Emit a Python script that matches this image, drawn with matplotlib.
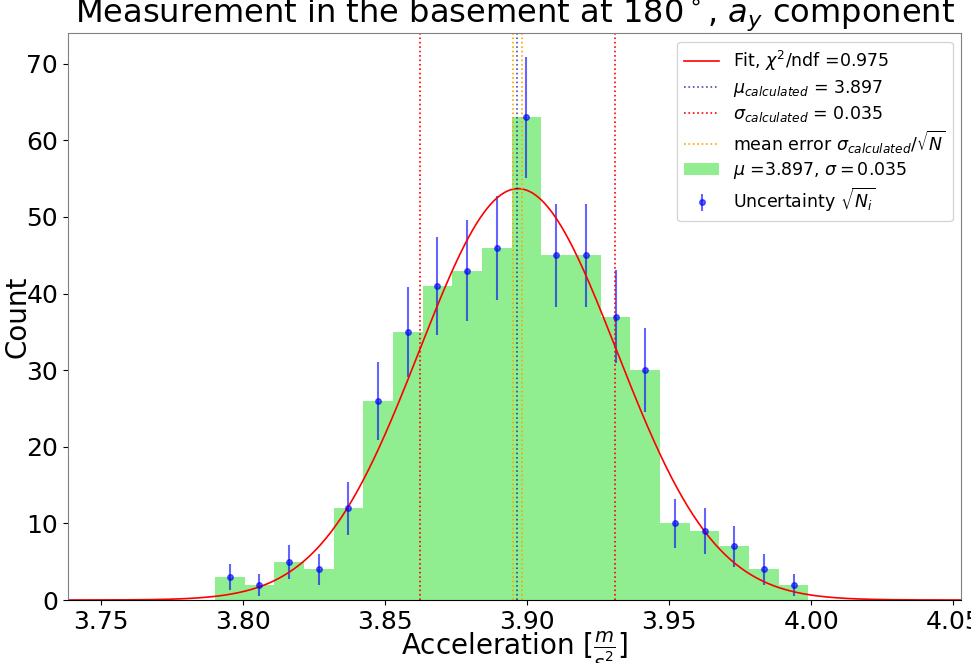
import numpy as np
import matplotlib
matplotlib.use("Agg")
import matplotlib.pyplot as plt

bin_lo = 3.7901
bin_hi = 3.9990
counts = [3, 2, 5, 4, 12, 26, 35, 41, 43, 46, 63, 45, 45, 37, 30, 10, 9, 7, 4, 2]

# calculated mean / sigma and gaussian fit parameters
mu_calc = 3.8965
sigma_calc = 0.0343
fit_amp = 53.7
fit_mu = 3.8968
fit_sigma = 0.0347
chi2_ndf = 0.975

edges = np.linspace(bin_lo, bin_hi, len(counts) + 1)
centers = 0.5 * (edges[:-1] + edges[1:])
counts = np.array(counts)
N = counts.sum()
mean_err = sigma_calc / np.sqrt(N)

fig, ax = plt.subplots(figsize=(9.71, 6.63), dpi=100)
fig.subplots_adjust(left=0.07, right=0.99, top=0.95, bottom=0.095)

ax.hist(centers, bins=edges, weights=counts, color='lightgreen',
        label=r'$\mu$ =3.897, $\sigma = 0.035$')

ax.errorbar(centers, counts, yerr=np.sqrt(counts), fmt='o', color='blue',
            alpha=0.6, markersize=4, elinewidth=1.5,
            label=r'Uncertainty $\sqrt{N_i}$')

x = np.linspace(3.7384, 4.0528, 500)
y = fit_amp * np.exp(-0.5 * ((x - fit_mu) / fit_sigma) ** 2)
ax.plot(x, y, color='red', lw=1.2, label=r'Fit, $\chi^2$/ndf =%.3f' % chi2_ndf)

ax.axvline(mu_calc, color='darkblue', ls=':', lw=1.2, alpha=0.7,
           label=r'$\mu_{calculated}$ = 3.897')
ax.axvline(mu_calc - sigma_calc, color='red', ls=':', lw=1.2,
           label=r'$\sigma_{calculated}$ = 0.035')
ax.axvline(mu_calc + sigma_calc, color='red', ls=':', lw=1.2)
ax.axvline(mu_calc - mean_err, color='orange', ls=':', lw=1.2,
           label=r'mean error $\sigma_{calculated}/\sqrt{N}$')
ax.axvline(mu_calc + mean_err, color='orange', ls=':', lw=1.2)

ax.set_xlim(3.7384, 4.0528)
ax.set_ylim(0, 74.0)
ax.set_xticks([3.75, 3.80, 3.85, 3.90, 3.95, 4.00, 4.05])
ax.set_title(r'Measurement in the basement at 180$^\circ$, $a_y$ component',
             fontsize=23.1, pad=-2.5)
ax.set_xlabel(r'Acceleration [$\frac{m}{s^2}$]', fontsize=20, labelpad=-3)
ax.set_ylabel('Count', fontsize=20, labelpad=-4)
ax.tick_params(labelsize=18)

for side in ['left', 'top', 'right']:
    ax.spines[side].set_color('grey')

handles, labels = ax.get_legend_handles_labels()
order = [labels.index(l) for l in [
    r'Fit, $\chi^2$/ndf =%.3f' % chi2_ndf,
    r'$\mu_{calculated}$ = 3.897',
    r'$\sigma_{calculated}$ = 0.035',
    r'mean error $\sigma_{calculated}/\sqrt{N}$',
    r'$\mu$ =3.897, $\sigma = 0.035$',
    r'Uncertainty $\sqrt{N_i}$']]
ax.legend([handles[i] for i in order], [labels[i] for i in order],
          loc='upper right', fontsize=12.5, labelspacing=0.28)

plt.savefig('out.png')
